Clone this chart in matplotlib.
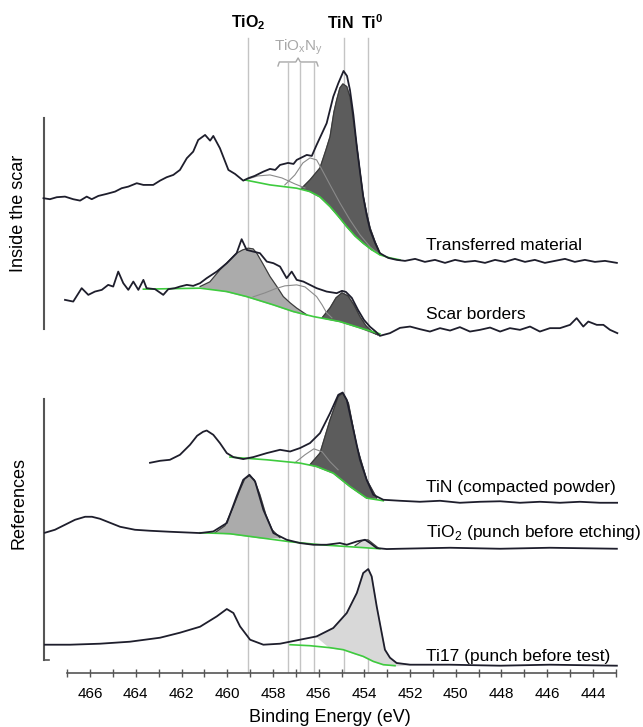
import matplotlib.pyplot as plt

plt.rcParams['font.family'] = ['Liberation Sans', 'DejaVu Sans']
plt.rcParams['mathtext.fontset'] = 'custom'
plt.rcParams['mathtext.rm'] = 'Liberation Sans'
plt.rcParams['mathtext.bf'] = 'Liberation Sans:bold'

# reference binding energies (eV): TiO2, TiOxNy (3), TiN, Ti0
ref_lines = [459.07, 457.34, 456.80, 456.19, 454.90, 453.83]

# --- Transferred material (inside the scar) ---
tm_e = [468.04, 467.76, 467.46, 467.10, 466.74, 466.44, 466.15, 465.93, 465.64, 465.28,
        464.91, 464.62, 464.33, 463.96, 463.67, 463.24, 462.94, 462.65, 462.36, 462.07,
        461.77, 461.49, 461.27, 460.97, 460.75, 460.61, 460.32, 459.95, 459.66, 459.30,
        459.08, 458.80, 458.42, 458.13, 457.90, 457.69, 457.34, 457.10, 456.96, 456.52,
        456.30, 456.09, 455.65, 455.36, 455.14, 454.91, 454.76, 454.63, 454.48, 454.33,
        454.19, 454.05, 453.90, 453.75, 453.53, 453.32, 452.96, 452.58, 452.22, 451.78,
        451.35, 450.91, 450.47, 450.03, 449.60, 449.16, 448.72, 448.28, 447.85, 447.41,
        446.97, 446.54, 446.10, 445.66, 445.22, 444.79, 444.35, 443.91, 443.47, 442.95]
tm_i = [474.7, 473.7, 475.7, 476.3, 473.7, 472.3, 476.3, 473.7, 477.0, 479.0,
        481.3, 484.7, 486.3, 489.7, 488.0, 488.0, 492.3, 495.7, 498.0, 503.0,
        514.7, 521.3, 533.0, 538.0, 532.3, 537.0, 524.7, 503.0, 499.0, 492.3,
        494.7, 497.0, 501.3, 504.0, 503.0, 508.0, 510.0, 509.0, 513.0, 518.0,
        517.0, 528.0, 549.7, 576.3, 589.7, 602.0, 597.0, 583.0, 558.0, 526.3,
        501.0, 476.3, 458.0, 443.0, 430.0, 419.7, 415.0, 413.0, 412.0, 414.0,
        411.0, 413.0, 410.0, 413.0, 411.0, 412.0, 410.0, 413.0, 411.0, 414.0,
        411.0, 413.0, 410.0, 412.0, 414.0, 411.0, 413.0, 411.0, 412.0, 410.0]
tm_bg_e = [459.23, 458.13, 456.96, 456.38, 455.94, 455.50, 455.15, 454.77, 454.41,
           454.05, 453.67, 453.32, 452.88, 452.44]
tm_bg_i = [493.0, 488.0, 484.7, 481.3, 476.0, 466.3, 457.0, 446.3, 437.0,
           429.7, 423.0, 418.0, 415.0, 413.0]
tm_tin_e = [456.74, 456.38, 455.94, 455.68, 455.50, 455.33, 455.21, 455.07, 454.94,
            454.77, 454.63, 454.50, 454.33, 454.19, 454.06, 453.90, 453.75, 453.53, 453.32]
tm_tin_i = [484.7, 493.0, 505.0, 523.0, 536.3, 561.0, 573.0, 585.0, 589.0,
            586.3, 576.0, 555.0, 526.3, 501.0, 478.0, 459.7, 445.0, 431.0, 419.7]
tm_oxn_e = [457.48, 457.04, 456.69, 456.38, 456.09, 455.85, 455.50, 455.07, 454.63,
            454.19, 453.75, 453.32]
tm_oxn_i = [488.0, 498.0, 510.0, 515.0, 513.0, 503.0, 488.0, 470.0, 453.0,
            438.0, 426.0, 418.0]
tm_ox2_e = [459.23, 458.66, 458.13, 457.61, 457.04, 456.60]
tm_ox2_i = [493.0, 497.0, 498.0, 495.0, 489.0, 485.0]

# --- Scar borders ---
sb_e = [467.10, 466.74, 466.37, 466.08, 465.79, 465.49, 465.21, 464.99, 464.77, 464.55,
        464.33, 464.11, 463.89, 463.67, 463.53, 463.16, 462.80, 462.58, 462.29, 462.07,
        461.77, 461.49, 461.19, 460.90, 460.46, 460.02, 459.59, 459.37, 459.15, 458.86,
        458.57, 458.27, 457.98, 457.69, 457.40, 457.18, 456.96, 456.67, 456.38, 456.09,
        455.65, 455.21, 454.98, 454.81, 454.55, 454.28, 454.02, 453.75, 453.49, 453.32,
        452.88, 452.44, 452.00, 451.57, 451.13, 450.69, 450.25, 449.82, 449.38, 448.94,
        448.50, 448.06, 447.63, 447.19, 446.75, 446.32, 445.88, 445.44, 445.00, 444.71,
        444.42, 444.20, 443.83, 443.54, 443.25, 442.93]
sb_i = [373.0, 371.3, 384.7, 378.0, 381.3, 383.0, 388.0, 386.3, 401.3, 389.7,
        383.0, 391.3, 383.0, 393.0, 384.7, 383.7, 378.0, 383.7, 384.7, 386.3,
        388.0, 387.0, 389.7, 394.7, 401.3, 409.7, 419.7, 433.7, 423.0, 421.3,
        419.7, 411.3, 409.7, 406.3, 394.7, 401.3, 393.0, 391.3, 388.0, 384.7,
        381.3, 379.7, 382.0, 381.0, 375.0, 363.0, 353.0, 346.0, 341.0, 337.0,
        339.7, 345.0, 346.3, 343.7, 341.3, 344.7, 342.3, 345.7, 341.3, 343.0,
        345.3, 341.3, 344.7, 343.0, 346.3, 341.3, 344.7, 344.7, 348.0, 354.7,
        346.3, 351.3, 348.0, 348.0, 343.0, 339.7]
sb_bg_e = [463.67, 461.19, 460.02, 459.15, 457.98, 457.11, 456.23, 455.07, 454.19, 453.32]
sb_bg_i = [383.7, 384.7, 381.3, 376.3, 368.0, 361.3, 356.3, 351.3, 345.0, 339.0]
sb_tio2_e = [461.19, 460.76, 460.32, 459.97, 459.59, 459.32, 459.08, 458.87, 458.71,
             458.44, 458.13, 457.82, 457.55, 457.25, 456.96, 456.52]
sb_tio2_i = [386.3, 391.0, 403.0, 411.0, 419.7, 423.0, 424.7, 424.0, 419.7,
             409.0, 396.3, 386.0, 376.3, 370.0, 364.7, 358.0]
sb_oxn_e = [458.87, 458.35, 457.91, 457.48, 456.96, 456.60, 456.09, 455.85, 455.65, 455.42]
sb_oxn_i = [376.0, 380.0, 384.0, 387.0, 388.0, 386.0, 376.3, 368.0, 360.0, 355.0]
sb_tin_e = [455.85, 455.50, 455.24, 454.98, 454.72, 454.46, 454.19, 453.93, 453.66, 453.40]
sb_tin_i = [355.0, 365.0, 375.0, 380.0, 377.0, 368.0, 356.0, 347.0, 341.0, 338.0]

# --- TiN (compacted powder) ---
tn_e = [463.38, 462.94, 462.51, 462.07, 461.63, 461.32, 461.06, 460.90, 460.61, 460.32,
        460.02, 459.73, 459.30, 458.86, 458.27, 457.69, 457.25, 456.82, 456.38, 455.94,
        455.50, 455.14, 454.95, 454.77, 454.48, 454.19, 453.90, 453.61, 453.17, 452.44,
        451.57, 450.69, 449.82, 448.94, 448.06, 447.19, 446.32, 445.44, 444.57, 443.69, 442.94]
tn_i = [210.0, 212.0, 213.0, 218.0, 228.0, 237.0, 241.0, 242.3, 238.0, 229.7,
        219.7, 215.7, 213.7, 215.7, 219.7, 223.0, 221.3, 224.7, 229.7, 239.7,
        259.7, 278.0, 280.3, 273.0, 243.0, 213.0, 193.0, 178.0, 173.0, 172.0,
        171.0, 172.0, 170.0, 171.0, 171.5, 170.0, 171.0, 170.0, 171.0, 170.0, 170.0]
tn_bg_e = [459.88, 458.27, 456.82, 456.09, 455.36, 454.63, 453.90, 453.17]
tn_bg_i = [215.7, 213.0, 209.7, 206.3, 199.7, 186.3, 174.7, 172.0]
tn_tin_e = [456.38, 455.94, 455.50, 455.14, 454.95, 454.70, 454.33, 453.90, 453.46]
tn_tin_i = [208.0, 219.7, 253.0, 276.3, 279.7, 269.7, 226.3, 193.0, 174.7]
tn_oxn_e = [457.04, 456.60, 456.21, 455.85, 455.50, 455.15]
tn_oxn_i = [210.0, 218.0, 224.0, 221.0, 211.0, 203.0]

# --- TiO2 (punch before etching) ---
to_e = [467.98, 467.54, 467.10, 466.66, 466.22, 465.92, 465.57, 465.13, 464.69, 464.04,
        463.38, 462.51, 461.19, 460.61, 460.02, 459.59, 459.30, 459.03, 458.78, 458.42,
        457.98, 457.40, 456.82, 456.23, 455.65, 455.07, 454.77, 454.33, 453.97, 453.75,
        453.46, 453.02, 452.44, 450.25, 448.06, 445.88, 442.95]
to_i = [140.0, 143.0, 148.0, 153.0, 156.0, 156.0, 154.0, 150.0, 146.0, 143.0,
        142.0, 141.0, 139.7, 141.3, 149.7, 176.3, 193.0, 198.0, 191.3, 163.0,
        139.7, 133.0, 129.7, 128.0, 128.0, 129.7, 128.0, 131.3, 133.0, 129.7,
        124.7, 123.7, 124.0, 125.0, 124.0, 125.0, 124.0]
to_bg_e = [461.19, 459.88, 458.57, 457.25, 455.94, 454.63, 453.32]
to_bg_i = [140.0, 139.0, 135.0, 131.0, 128.0, 126.0, 124.0]
to_tio2_e = [460.54, 460.10, 459.75, 459.44, 459.23, 459.03, 458.82, 458.57, 458.31, 458.04, 457.69]
to_tio2_i = [140.0, 147.0, 165.0, 183.0, 194.0, 197.0, 193.0, 178.0, 158.0, 143.0, 135.0]
to_ti_e = [454.41, 454.10, 453.84, 453.62, 453.40]
to_ti_i = [127.0, 132.0, 133.0, 129.0, 125.0]

# --- Ti17 (punch before test) ---
t17_e = [467.98, 466.88, 465.57, 464.26, 462.94, 462.07, 461.19, 460.46, 460.02, 459.73,
         459.44, 459.00, 458.42, 457.69, 456.82, 456.09, 455.36, 454.77, 454.33, 454.05,
         453.83, 453.68, 453.46, 453.24, 453.10, 452.88, 452.59, 452.00, 450.25, 448.06,
         445.88, 442.95]
t17_i = [28.0, 28.0, 29.0, 31.0, 35.0, 40.0, 46.0, 56.3, 63.7, 59.7,
         46.3, 33.0, 28.0, 29.0, 33.0, 36.3, 44.7, 59.7, 79.7, 99.7,
         103.7, 96.3, 66.3, 39.7, 23.0, 15.0, 9.7, 8.0, 8.0, 7.0,
         8.0, 7.0]
t17_bg_e = [457.25, 456.38, 455.50, 454.92, 454.41, 454.05, 453.61, 453.17, 452.66]
t17_bg_i = [28.0, 27.0, 25.0, 23.0, 19.0, 16.3, 11.3, 8.0, 7.0]

labels = ["Transferred material", "Scar borders", "TiN (compacted powder)",
          "TiO$_2$ (punch before etching)", "Ti17 (punch before test)"]
label_i = [427, 358, 185, 140, 16]


def comp_polygon(ce, ci, be, bi):
    # close a fitted component on its background
    lo, hi = min(ce), max(ce)
    pe = list(ce)
    pi = list(ci)
    for e, v in sorted(zip(be, bi)):
        if lo < e < hi:
            pe.append(e)
            pi.append(v)
    return pe, pi


fig = plt.figure(figsize=(6.43, 7.27), dpi=100)
ax = fig.add_axes([0.0691, 0.0747, 0.8956, 0.9253])
ax.set_xlim(468, 442.8)
ax.set_ylim(0, 673)

# reference lines
for k, e in enumerate(ref_lines):
    top = 610 if k in (1, 2, 3) else 635
    ax.plot([e, e], [0, top], color='#c4c4c4', lw=1.0, zorder=1)

dark, mid, light = '#5c5c5c', '#ababab', '#d8d8d8'
spec_c = '#1e1e2c'
green = '#3ecb3e'

# fitted components
for ce, ci, be, bi, fc in [
        (tm_tin_e, tm_tin_i, tm_bg_e, tm_bg_i, dark),
        (sb_tio2_e, sb_tio2_i, sb_bg_e, sb_bg_i, mid),
        (sb_tin_e, sb_tin_i, sb_bg_e, sb_bg_i, dark),
        (tn_tin_e, tn_tin_i, tn_bg_e, tn_bg_i, dark),
        (to_tio2_e, to_tio2_i, to_bg_e, to_bg_i, mid),
        (to_ti_e, to_ti_i, to_bg_e, to_bg_i, light)]:
    pe, pi = comp_polygon(ce, ci, be, bi)
    ax.fill(pe, pi, color=fc, zorder=2)
    ax.plot(ce, ci, color='#3a3a3a', lw=0.8, zorder=3)

# Ti17 metal peak shaded between spectrum and background
pe, pi = comp_polygon(t17_e[15:28], t17_i[15:28], t17_bg_e, t17_bg_i)
ax.fill(pe, pi, color=light, zorder=2)

for ce, ci in [(tm_oxn_e, tm_oxn_i), (tm_ox2_e, tm_ox2_i), (sb_oxn_e, sb_oxn_i),
               (tn_oxn_e, tn_oxn_i)]:
    ax.plot(ce, ci, color='#8a8a8a', lw=0.8, zorder=3)

# backgrounds
for be, bi in [(tm_bg_e, tm_bg_i), (sb_bg_e, sb_bg_i), (tn_bg_e, tn_bg_i),
               (to_bg_e, to_bg_i), (t17_bg_e, t17_bg_i)]:
    ax.plot(be, bi, color=green, lw=1.2, zorder=3)

# spectra
for se, si in [(tm_e, tm_i), (sb_e, sb_i), (tn_e, tn_i), (to_e, to_i), (t17_e, t17_i)]:
    ax.plot(se, si, color=spec_c, lw=1.3, zorder=4, clip_on=False)

for lab, li in zip(labels, label_i):
    ax.text(451.3, li, lab, fontsize=12.5, va='center', ha='left', zorder=5)

# peak labels on top
ax.text(ref_lines[0], 650, r"$\mathbf{TiO_2}$", fontsize=11.5, ha='center', va='center')
ax.text(455.06, 650, r"$\mathbf{TiN}$", fontsize=11.5, ha='center', va='center')
ax.text(453.68, 650, r"$\mathbf{Ti^0}$", fontsize=11.5, ha='center', va='center')
ax.text(456.9, 626, r"TiO$_\mathrm{x}$N$_\mathrm{y}$", fontsize=11, color='#a8a8a8',
        ha='center', va='center')
# brace under TiOxNy
ax.plot([457.78, 457.72, 457.0, 456.9, 456.8, 456.09, 456.03],
        [607, 611, 611, 615, 611, 611, 607], color='#a8a8a8', lw=1.0)

# group brackets on the left
ax.plot([468, 468], [344, 555], color='#555555', lw=1.5, clip_on=False)
ax.plot([468, 468], [13, 274], color='#555555', lw=1.5, clip_on=False)
ax.plot([468, 467.8], [13, 13], color='#555555', lw=1.2, clip_on=False)
fig.text(19 / 643, 1 - 213 / 727, "Inside the scar", rotation=90, fontsize=13,
         ha='center', va='center')
fig.text(19 / 643, 1 - 503 / 727, "References", rotation=90, fontsize=13,
         ha='center', va='center')

for s in ['top', 'right', 'left']:
    ax.spines[s].set_visible(False)
ax.spines['bottom'].set_bounds(467, 443)
ax.spines['bottom'].set_color('#555555')
ax.spines['bottom'].set_linewidth(1.2)
ax.set_yticks([])
ax.set_xticks(range(466, 443, -2))
ax.set_xticks(range(467, 442, -2), minor=True)
ax.tick_params(axis='x', which='both', direction='inout', length=6, width=1,
               color='#555555', labelsize=11, pad=7)
fig.text(330 / 643, 1 - 717 / 727, "Binding Energy (eV)", fontsize=13,
         ha='center', va='center')

fig.savefig('out.png', dpi=100)
